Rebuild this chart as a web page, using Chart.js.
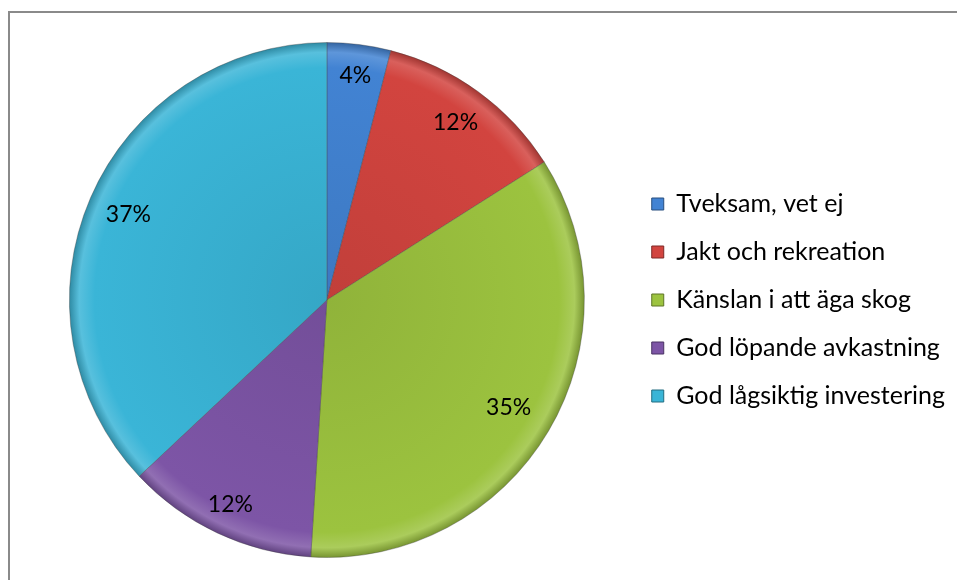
<!DOCTYPE html>
<html lang="sv">
<head>
    <meta charset="UTF-8">
    <title>Pie</title>
    <script src="https://cdn.jsdelivr.net/npm/chart.js"></script>
    <style>
        body { margin: 0; background: white; }
        #wrap { width: 957px; height: 580px; position: relative; }
    </style>
</head>
<body>
    <div id="wrap"><canvas id="pie"></canvas></div>
    <script>
        const categories = ['Tveksam, vet ej', 'Jakt och rekreation', 'Känslan i att äga skog', 'God löpande avkastning', 'God lågsiktig investering'];
        const shares = [4, 12, 35, 12, 37];
        const colors = ['#4283d3', '#d2443f', '#9cc33f', '#7d55a6', '#3ab5d7'];

        function shade(hex, amt) {
            const n = parseInt(hex.slice(1), 16);
            let r = (n >> 16) & 255, g = (n >> 8) & 255, b = n & 255;
            const f = v => Math.max(0, Math.min(255, Math.round(amt > 0 ? v + (255 - v) * amt : v * (1 + amt))));
            return `rgb(${f(r)},${f(g)},${f(b)})`;
        }

        // bevel-ish fill like the old office charts
        function sliceFill(ctx) {
            const chart = ctx.chart;
            const a = chart.chartArea;
            if (!a) return colors[ctx.dataIndex];
            const cx = (a.left + a.right) / 2, cy = (a.top + a.bottom) / 2;
            const r = Math.min(a.right - a.left, a.bottom - a.top) / 2;
            const base = colors[ctx.dataIndex];
            const g = chart.ctx.createRadialGradient(cx, cy, 0, cx, cy, r);
            g.addColorStop(0, shade(base, -0.08));
            g.addColorStop(0.9, base);
            g.addColorStop(0.96, shade(base, 0.15));
            g.addColorStop(1, shade(base, -0.25));
            return g;
        }

        const frame = {
            id: 'frame',
            beforeDraw(chart) {
                const c = chart.ctx;
                c.save();
                c.fillStyle = '#fff';
                c.fillRect(0, 0, chart.width, chart.height);
                c.strokeStyle = '#8a8a8a';
                c.lineWidth = 2;
                c.beginPath();
                c.moveTo(9, chart.height);
                c.lineTo(9, 12);
                c.lineTo(chart.width, 12);
                c.stroke();
                c.restore();
            }
        };

        const pctLabels = {
            id: 'pctLabels',
            afterDatasetsDraw(chart, args, opts) {
                const c = chart.ctx;
                const meta = chart.getDatasetMeta(0);
                c.save();
                c.font = opts.font;
                c.fillStyle = '#000';
                c.textAlign = 'center';
                c.textBaseline = 'middle';
                meta.data.forEach((arc, i) => {
                    const p = arc.getProps(['x', 'y', 'startAngle', 'endAngle', 'outerRadius'], true);
                    const ang = (p.startAngle + p.endAngle) / 2;
                    const rr = p.outerRadius * (opts.radius[i] || 0.86);
                    c.fillText(shares[i] + '%', p.x + Math.cos(ang) * rr, p.y + Math.sin(ang) * rr);
                });
                c.restore();
            }
        };

        new Chart(document.getElementById('pie'), {
            type: 'pie',
            data: {
                labels: categories,
                datasets: [{
                    data: shares,
                    backgroundColor: sliceFill,
                    borderColor: 'rgba(60,60,60,0.35)',
                    borderWidth: 1
                }]
            },
            options: {
                responsive: true,
                maintainAspectRatio: false,
                animation: false,
                layout: { padding: { top: 42, bottom: 22, left: 25, right: 2 } },
                plugins: {
                    tooltip: { enabled: false },
                    legend: {
                        position: 'right',
                        labels: {
                            color: '#000',
                            font: { family: 'Lato', size: 25 },
                            boxWidth: 12,
                            boxHeight: 12,
                            padding: 23,
                            generateLabels(chart) {
                                return categories.map((t, i) => ({
                                    text: t,
                                    fillStyle: colors[i],
                                    strokeStyle: shade(colors[i], -0.4),
                                    lineWidth: 1,
                                    index: i
                                }));
                            }
                        }
                    },
                    pctLabels: {
                        font: '23px Lato',
                        radius: { 0: 0.88, 1: 0.85, 2: 0.82, 3: 0.88, 4: 0.84 }
                    }
                }
            },
            plugins: [frame, pctLabels]
        });
    </script>
</body>
</html>
